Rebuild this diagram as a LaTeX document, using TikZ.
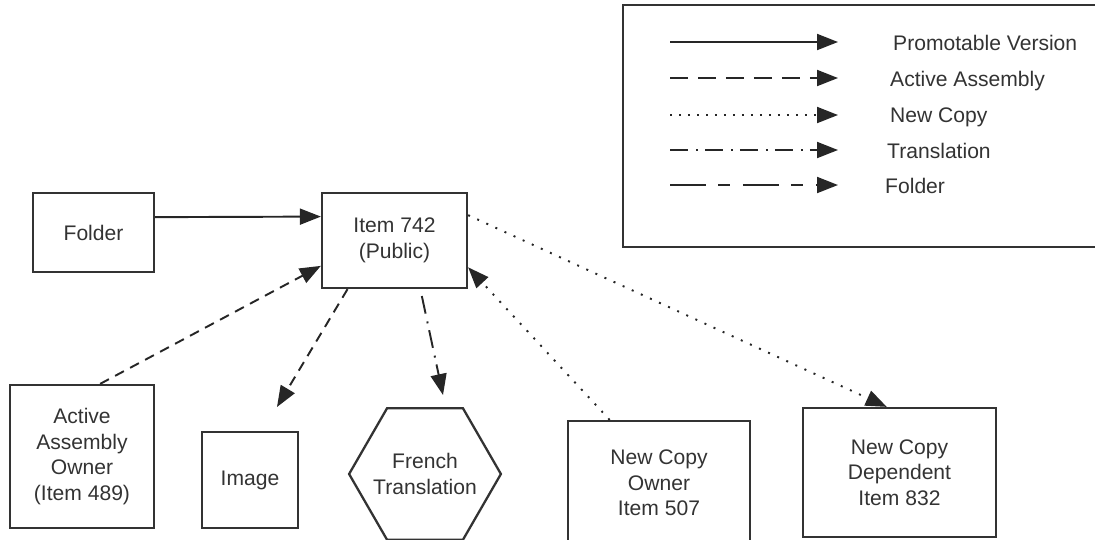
\documentclass[tikz,border=0pt]{standalone}
\usepackage{fontspec}
\setmainfont{Liberation Sans}
\usetikzlibrary{arrows.meta,shapes.geometric}

\begin{document}
\begin{tikzpicture}[x=0.02cm, y=-0.02cm,
        every node/.style={font=\fontsize{12}{14.5}\selectfont, text=black!80},
        box/.style={draw=black!80, line width=1.3pt, align=center, inner sep=0pt},
        legendtext/.style={anchor=base west},
        link/.style={line width=1.1pt, draw=black!85, -{Triangle[length=0.42cm, width=0.32cm]}},
        promote/.style={link},
        assembly/.style={link, dash pattern=on 0.2cm off 0.14cm},
        newcopy/.style={link, dash pattern=on 0.04cm off 0.16cm},
        translation/.style={link, dash pattern=on 0.36cm off 0.16cm on 0.04cm off 0.14cm},
        folderlink/.style={link, dash pattern=on 0.72cm off 0.24cm on 0.24cm off 0.26cm}
    ]
        \useasboundingbox (0,0) rectangle (1095,539);

        % Legend
        \node[box, minimum width=9.54cm, minimum height=4.84cm] (legend) at (861.5,126) {};

        \coordinate (p1) at (670,42);  \coordinate (q1) at (838,42);
        \coordinate (p2) at (670,78);  \coordinate (q2) at (838,78);
        \coordinate (p3) at (670,115); \coordinate (q3) at (838,115);
        \coordinate (p4) at (670,150); \coordinate (q4) at (838,150);
        \coordinate (p5) at (670,185); \coordinate (q5) at (838,185);

        \draw[promote] (p1) -- (q1);
        \draw[assembly, dash pattern=on 0.36cm off 0.2cm] (p2) -- (q2);
        \draw[newcopy, dash pattern=on 0.04cm off 0.14cm] (p3) -- (q3);
        \draw[translation] (p4) -- (q4);
        \draw[folderlink] (p5) -- (q5);

        \node[legendtext] (lgpromote) at (887,50) {Promotable Version};
        \node[legendtext] (lgassembly) at (884,86) {Active Assembly};
        \node[legendtext] (lgcopy) at (884,122) {New Copy};
        \node[legendtext] (lgtranslation) at (881,158) {Translation};
        \node[legendtext] (lgfolder) at (879,193) {Folder};

        % Items
        \node[box, minimum width=2.42cm, minimum height=1.58cm] (folder) at (93.5,232.5) {Folder};
        \node[box, minimum width=2.9cm, minimum height=1.9cm] (item) at (394.5,240.5) {Item 742\\(Public)};
        \node[box, minimum width=2.88cm, minimum height=2.86cm] (owner) at (82,456.5) {Active\\Assembly\\Owner\\(Item 489)};
        \node[box, minimum width=1.92cm, minimum height=1.92cm] (image) at (250,480) {Image};
        \node[box, regular polygon, regular polygon sides=6, inner sep=-3pt, minimum size=2.6cm] (french) at (425,474) {French\\Translation};
        \node[box, minimum width=3.64cm, minimum height=2.48cm] (copyowner) at (659,483) {New Copy\\Owner\\Item 507};
        \node[box, minimum width=3.86cm, minimum height=2.58cm] (copydep) at (899.5,472.5) {New Copy\\Dependent\\Item 832};

        % Links
        \coordinate (imagetip) at (277,407);
        \coordinate (frenchtip) at (443,395);

        \draw[promote] (folder.14) -- (item.162);
        \draw[assembly] (owner.76) -- (item.199);
        \draw[assembly] (item.226) -- (imagetip);
        \draw[translation, shorten <=0.14cm] (item.298) -- (frenchtip);
        \draw[newcopy] (copyowner.128) -- (item.340);
        \draw[newcopy] (item.19) -- (copydep.101);
    \end{tikzpicture}
\end{document}
